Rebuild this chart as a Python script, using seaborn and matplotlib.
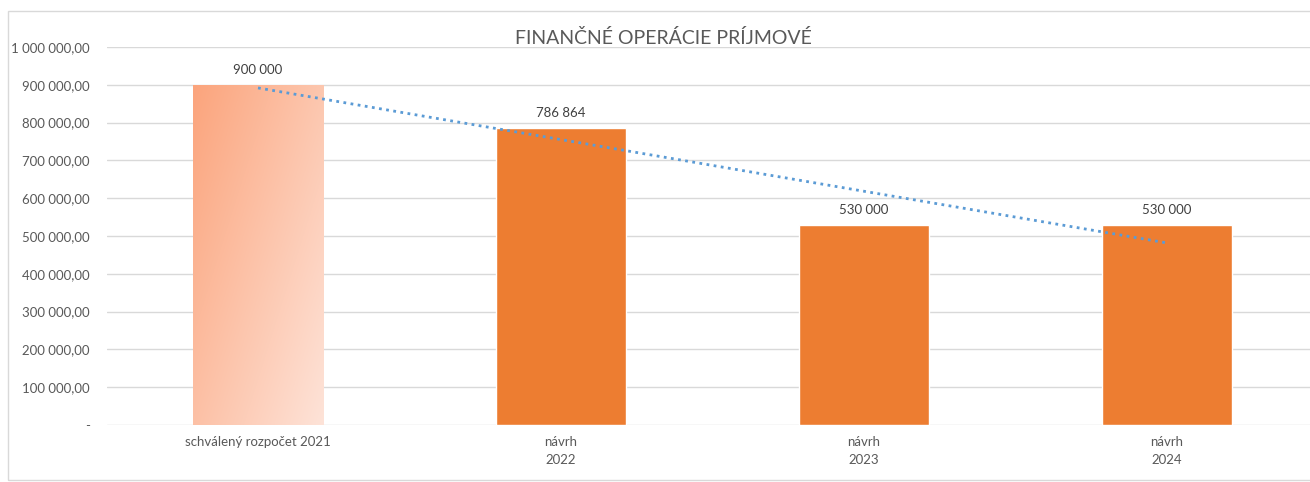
import numpy as np
import pandas as pd
import matplotlib
matplotlib.use("Agg")
import matplotlib.pyplot as plt
import seaborn as sns
from matplotlib.patches import Rectangle
from matplotlib.colors import LinearSegmentedColormap

categories = ["schválený rozpočet 2021", "návrh\n2022", "návrh\n2023", "návrh\n2024"]
values = [900000, 786864, 530000, 530000]
value_labels = ["900 000", "786 864", "530 000", "530 000"]
yticks = [0, 100000, 200000, 300000, 400000, 500000, 600000, 700000, 800000, 900000, 1000000]
ytick_labels = ["-", "100 000,00", "200 000,00", "300 000,00", "400 000,00", "500 000,00",
                "600 000,00", "700 000,00", "800 000,00", "900 000,00", "1 000 000,00"]
title = "FINANČNÉ OPERÁCIE PRÍJMOVÉ"

sns.set_theme(style="white")
plt.rcParams['font.family'] = ['Lato', 'DejaVu Sans']

W, H = 1310, 482
fig = plt.figure(figsize=(W / 100, H / 100), dpi=100)
ax = fig.add_axes([106.5 / W, (H - 425) / H, (1318.5 - 106.5) / W, (425 - 47) / H])

df = pd.DataFrame({"cat": categories, "val": values})
sns.barplot(data=df, x="cat", y="val", color="#ED7D31", saturation=1, width=0.432, ax=ax, zorder=2)

# gradient fill for first bar
p0 = ax.patches[0]
x0, w0, h0 = p0.get_x(), p0.get_width(), p0.get_height()
p0.set_facecolor("none")
p0.set_edgecolor("none")
cmap = LinearSegmentedColormap.from_list("g", ["#FBA47C", "#FEE3D8"])
nx, ny = 200, 200
gx, gy = np.meshgrid(np.linspace(0, 1, nx), np.linspace(0, 1, ny))
grad = (gx * 0.55 + gy * 0.45)  # top-left dark -> bottom-right light (row 0 = top)
im = ax.imshow(grad, cmap=cmap, extent=[x0, x0 + w0, 0, h0], origin="upper",
               aspect="auto", zorder=2, interpolation="bilinear")
clip = Rectangle((x0, 0), w0, h0, transform=ax.transData, facecolor="none", edgecolor="none")
ax.add_patch(clip)
im.set_clip_path(clip)

# linear trendline
xs = np.arange(len(values))
coef = np.polyfit(xs, values, 1)
ax.plot(xs, np.polyval(coef, xs), linestyle=(0, (1, 1.6)), color="#5B9BD5", linewidth=2, zorder=3)

# value labels
for i, (v, lab) in enumerate(zip(values, value_labels)):
    ax.annotate(lab, (i, v), xytext=(0, 6), textcoords="offset points", ha="center", va="bottom",
                fontsize=9.5, color="#404040")

ax.set_xlim(-0.5, 3.5)
ax.set_ylim(0, 1000000)
ax.set_yticks(yticks)
ax.set_yticklabels(ytick_labels, fontsize=9.5, color="#595959")
ax.tick_params(axis="y", length=0, pad=12)
ax.tick_params(axis="x", length=0, pad=8, labelsize=9.5, labelcolor="#595959")
ax.set_xlabel("")
ax.set_ylabel("")
ax.yaxis.grid(True, color="#D9D9D9", linewidth=1)
ax.set_axisbelow(True)
for s in ax.spines.values():
    s.set_visible(False)
for lbl in ax.get_xticklabels():
    lbl.set_linespacing(1.6)

fig.text(663 / W, (H - 38) / H, title, ha="center", va="center", fontsize=14, color="#595959")

fig.patches.append(Rectangle((8 / W, 2 / H), 1.0, (H - 13) / H, transform=fig.transFigure,
                             facecolor="none", edgecolor="#D9D9D9", linewidth=1, zorder=0))

fig.savefig("out.png", dpi=100, facecolor="white")
